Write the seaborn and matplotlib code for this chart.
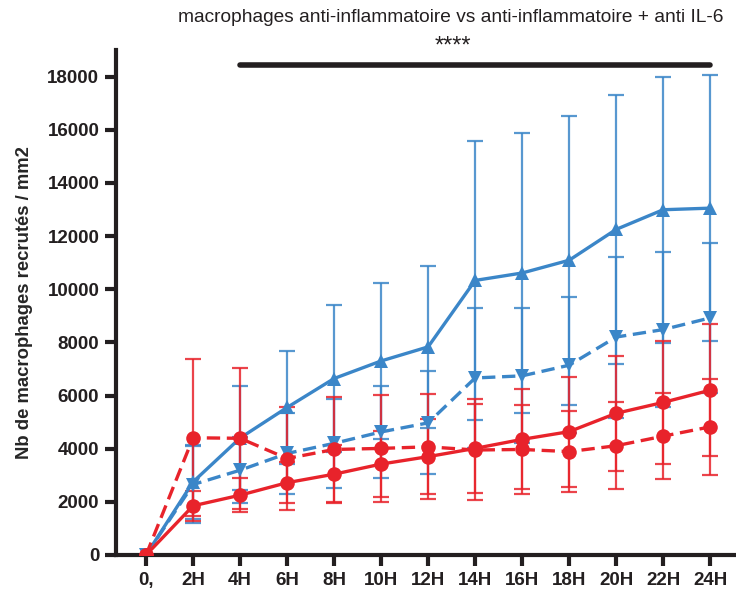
import numpy as np
import pandas as pd
import matplotlib
matplotlib.use("Agg")
import matplotlib.pyplot as plt
import seaborn as sns

# Data
times = ["0,", "2H", "4H", "6H", "8H", "10H", "12H", "14H", "16H", "18H", "20H", "22H", "24H"]

blue_solid = [0, 2750, 4400, 5550, 6640, 7300, 7830, 10330, 10610, 11090, 12250, 12990, 13050]
blue_solid_sd = [0, 1400, 1950, 2120, 2750, 2950, 3040, 5240, 5260, 5430, 5070, 5010, 5000]

blue_dash = [0, 2650, 3190, 3820, 4200, 4630, 4970, 6660, 6740, 7140, 8200, 8480, 8920]
blue_dash_sd = [0, 1450, 1250, 1530, 1680, 1730, 1940, 2620, 2540, 2550, 3030, 2920, 2820]

red_solid = [0, 1850, 2250, 2720, 3040, 3420, 3700, 4010, 4350, 4640, 5330, 5740, 6200]
red_solid_sd = [0, 560, 630, 770, 1100, 1250, 1400, 1660, 1880, 2070, 2170, 2320, 2480]

red_dash = [0, 4410, 4390, 3630, 3970, 4010, 4070, 3950, 3970, 3890, 4110, 4470, 4820]
red_dash_sd = [0, 2950, 2650, 1940, 1980, 2000, 1980, 1900, 1670, 1530, 1630, 1610, 1800]

BLUE = "#3b86c8"
RED = "#e8232b"

groups = {
    "anti-inflammatoire": (blue_solid, blue_solid_sd, BLUE, "^", ""),
    "anti-inflammatoire dash": (blue_dash, blue_dash_sd, BLUE, "v", (4, 2)),
    "anti-inflammatoire + anti IL-6": (red_solid, red_solid_sd, RED, "o", ""),
    "anti-inflammatoire + anti IL-6 dash": (red_dash, red_dash_sd, RED, "o", (4, 2)),
}

x = np.arange(len(times))
rows = []
for name, (vals, sd, c, m, d) in groups.items():
    for i, v in enumerate(vals):
        rows.append({"t": i, "val": v, "group": name})
df = pd.DataFrame(rows)

sns.set_style("ticks")
plt.rcParams['font.family'] = ['Liberation Sans', 'DejaVu Sans']

fig = plt.figure(figsize=(7.36, 5.94), dpi=100)
ax = fig.add_axes([0.1576, 0.0657, 0.8424, 0.8501])

# error bars first
for name, (vals, sd, c, m, d) in groups.items():
    ax.errorbar(x, vals, yerr=sd, fmt="none", ecolor=c, elinewidth=1.6,
                capsize=6, capthick=1.6, alpha=0.85, zorder=2)

sns.lineplot(data=df, x="t", y="val", hue="group", style="group",
             palette={k: v[2] for k, v in groups.items()},
             markers={k: v[3] for k, v in groups.items()},
             dashes={k: v[4] for k, v in groups.items()},
             markersize=10.5, markeredgewidth=0, linewidth=2.4,
             legend=False, ax=ax, zorder=3)

# significance bar
ax.plot([2, 12], [18450, 18450], color="#231f20", linewidth=4,
        solid_capstyle="round", clip_on=False)
fig.text(0.612, 0.971, "macrophages anti-inflammatoire vs anti-inflammatoire + anti IL-6",
         ha="center", va="center", fontsize=13.8, color="#231f20")
fig.text(0.615, 0.922, "****", ha="center", va="center",
         fontsize=17, color="#231f20")

ax.set_xlim(-0.64, 12.55)
ax.set_ylim(0, 19000)
ax.set_xticks(x)
ax.set_xticklabels(times)
ax.set_yticks(np.arange(0, 18001, 2000))
ax.set_xlabel("")
ax.set_ylabel("Nb de macrophages recrutés / mm2", fontsize=13.3, fontweight="bold",
              labelpad=10)

for lab in ax.get_xticklabels() + ax.get_yticklabels():
    lab.set_fontweight("bold")
    lab.set_fontsize(13.5)
    lab.set_color("#231f20")

sns.despine(ax=ax)
for sp in ["left", "bottom"]:
    ax.spines[sp].set_linewidth(3)
    ax.spines[sp].set_color("#231f20")
ax.tick_params(axis="both", width=3, length=8, color="#231f20", pad=4)

plt.savefig("out.png", dpi=100)
